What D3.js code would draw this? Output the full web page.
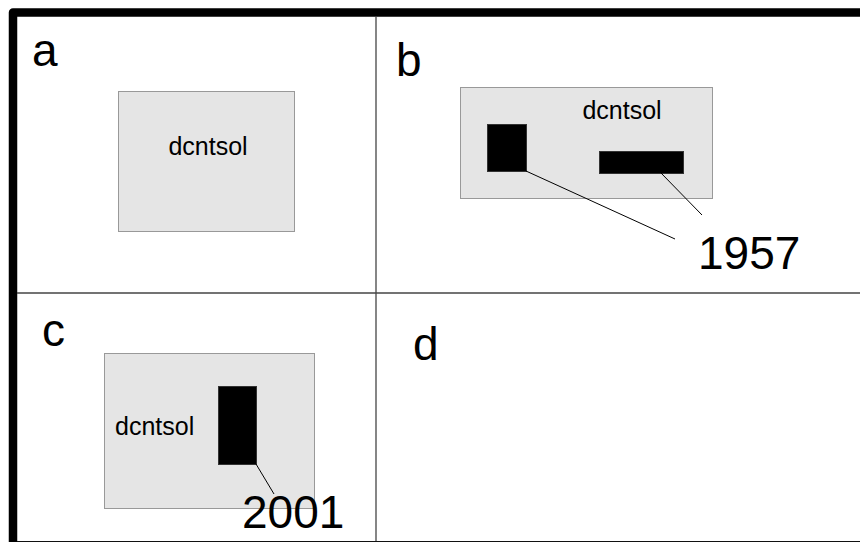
<!DOCTYPE html>
<html>
<head>
<meta charset="utf-8">
<script src="https://cdn.jsdelivr.net/npm/d3@7"></script>
<style>
  body { margin: 0; background: #fff; }
  svg { display: block; font-family: "Liberation Sans", Arial, sans-serif; }
</style>
</head>
<body>
<script>
// panel grid: 2 x 2
const panelNames = ["a", "b", "c", "d"];
const regionName = "dcntsol";

// inset boxes per panel, in panel units [x0, x1, y0, y1]
const regionBoxes = {
    a: [101, 277, 74, 214],
    b: [84, 336, 70, 181],
    c: [87, 297, 60, 215]
};
// black patches inside the region
const patches = {
    b: [[111, 150, 107, 154], [223, 307, 134, 156]],
    c: [[201, 239, 93, 171]]
};
// leader lines [x1, y1, x2, y2]
const leaders = {
    b: [[150, 154, 299, 222], [285, 156, 326, 198]],
    c: [[239, 171, 257, 201]]
};
// year labels [text, x, baseline]
const years = {
    b: ["1957", 322, 252],
    c: ["2001", 225, 235]
};
// region name positions [x, baseline, anchor]
const regionLabels = {
    a: [191, 138, "middle"],
    b: [246, 102, "middle"],
    c: [98, 142, "start"]
};
// panel letter positions [x, baseline]
const letterPos = {
    a: [15, 49], b: [20, 59], c: [25, 53], d: [37, 67]
};

const width = 860, height = 542;
const colEdges = [17, 376, 860];
const rowEdges = [17, 293, 541];

const svg = d3.select("body")
    .append("svg")
    .attr("width", width)
    .attr("height", height);

// outer frame: thick left and top rules
svg.append("path")
    .attr("d", `M13,${height} L13,12.5 L${width},12.5`)
    .attr("fill", "none")
    .attr("stroke", "#000")
    .attr("stroke-width", 8.5)
    .attr("stroke-linejoin", "round");

// dividers
svg.append("line")
    .attr("x1", colEdges[1]).attr("x2", colEdges[1])
    .attr("y1", rowEdges[0]).attr("y2", rowEdges[2])
    .attr("stroke", "#444").attr("stroke-width", 1.3);
svg.append("line")
    .attr("x1", colEdges[0]).attr("x2", width)
    .attr("y1", rowEdges[1]).attr("y2", rowEdges[1])
    .attr("stroke", "#444").attr("stroke-width", 1.3);
svg.append("line")
    .attr("x1", colEdges[0]).attr("x2", width)
    .attr("y1", rowEdges[2] + 0.5).attr("y2", rowEdges[2] + 0.5)
    .attr("stroke", "#111").attr("stroke-width", 1);

panelNames.forEach((name, i) => {
    const col = i % 2, row = Math.floor(i / 2);
    const pw = colEdges[col + 1] - colEdges[col];
    const ph = rowEdges[row + 1] - rowEdges[row];
    const x = d3.scaleLinear().domain([0, pw]).range([colEdges[col], colEdges[col] + pw]);
    const y = d3.scaleLinear().domain([0, ph]).range([rowEdges[row], rowEdges[row] + ph]);
    const g = svg.append("g");

    // region box
    if (regionBoxes[name]) {
        const b = regionBoxes[name];
        g.append("rect")
            .attr("x", x(b[0]) + 0.5)
            .attr("y", y(b[2]) + 0.5)
            .attr("width", x(b[1]) - x(b[0]))
            .attr("height", y(b[3]) - y(b[2]))
            .attr("fill", "#e5e5e5")
            .attr("stroke", "#999");

        const l = regionLabels[name];
        g.append("text")
            .attr("x", x(l[0]))
            .attr("y", y(l[1]))
            .attr("text-anchor", l[2])
            .style("font-size", "25px")
            .text(regionName);
    }

    // patches
    g.selectAll(".patch")
        .data(patches[name] || [])
        .join("rect")
        .attr("class", "patch")
        .attr("x", d => x(d[0]) + 0.5)
        .attr("y", d => y(d[2]) + 0.5)
        .attr("width", d => x(d[1]) - x(d[0]))
        .attr("height", d => y(d[3]) - y(d[2]))
        .attr("fill", "#000")
        .attr("stroke", "#333");

    // leader lines
    g.selectAll(".leader")
        .data(leaders[name] || [])
        .join("line")
        .attr("class", "leader")
        .attr("x1", d => x(d[0])).attr("y1", d => y(d[1]))
        .attr("x2", d => x(d[2])).attr("y2", d => y(d[3]))
        .attr("stroke", "#000")
        .attr("stroke-width", 1);

    // year label
    if (years[name]) {
        const t = years[name];
        g.append("text")
            .attr("x", x(t[1]))
            .attr("y", y(t[2]))
            .style("font-size", "46px")
            .text(t[0]);
    }

    // panel letter
    g.append("text")
        .attr("x", x(letterPos[name][0]))
        .attr("y", y(letterPos[name][1]))
        .style("font-size", "46px")
        .text(name);
});
</script>
</body>
</html>
